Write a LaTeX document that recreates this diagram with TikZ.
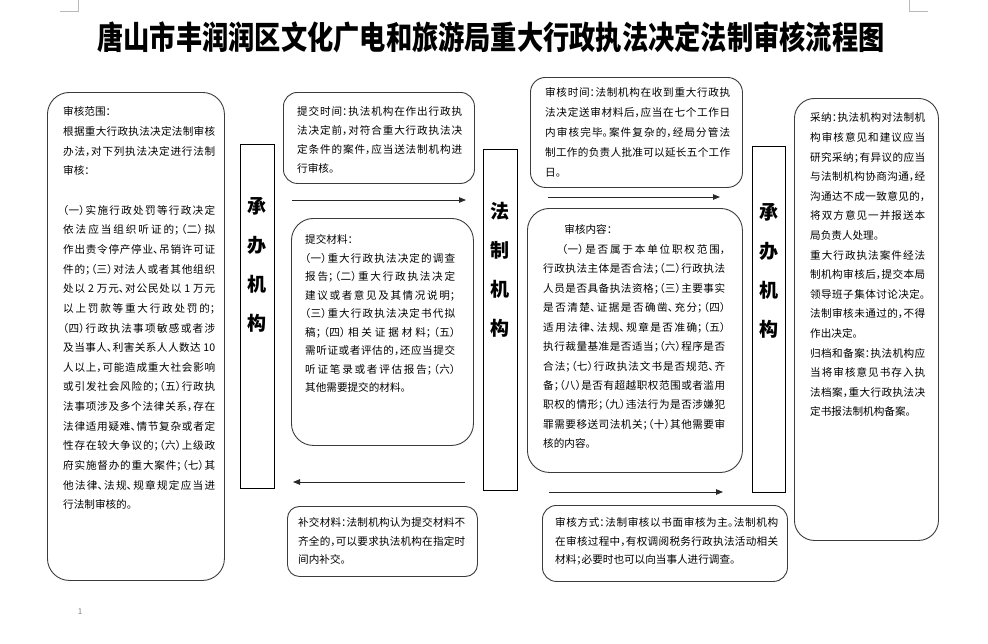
\documentclass[tikz,border=0pt]{standalone}
\usepackage{fontspec}
\usepackage{graphicx}
\setmainfont{Noto Sans CJK SC}[RawFeature=+halt]
\usetikzlibrary{arrows.meta}
\XeTeXlinebreaklocale "zh"
\XeTeXlinebreakskip=0pt plus 2pt
\tolerance=10000
\hbadness=10000
\hfuzz=6pt
\definecolor{boxgray}{RGB}{60,60,60}
\definecolor{arrgray}{RGB}{40,40,40}
\definecolor{markgray}{RGB}{185,185,185}
\newcommand\bodyfont[1]{\fontsize{10.6}{#1}\selectfont}
\begin{document}
\begin{tikzpicture}[x=1pt,y=-1pt,
  rbox/.style={draw=boxgray, line width=0.9pt, rounded corners=#1, anchor=north west, inner sep=0pt},
  vertbox/.style={draw=black, line width=0.9pt, anchor=north west, inner sep=0pt},
  txt/.style={anchor=north west, inner sep=0pt, align=justify},
  vlab/.style={anchor=north, inner sep=0pt, align=center, font=\bfseries\fontsize{19}{39}\selectfont},
  arr/.style={draw=arrgray, line width=0.8pt, -{Triangle[length=7pt,width=5.5pt]}},
  cornermark/.style={draw=markgray, line width=0.6pt}]
\useasboundingbox (0,0) rectangle (988,643);
\fill[white] (0,0) rectangle (988,643);

% corner marks and page number
\coordinate (m1a) at (60,11); \coordinate (m1b) at (78,11); \coordinate (m1c) at (78,0);
\coordinate (m2a) at (909,0); \coordinate (m2b) at (909,11); \coordinate (m2c) at (928,11);
\draw[cornermark] (m1a) -- (m1b) -- (m1c);
\draw[cornermark] (m2a) -- (m2b) -- (m2c);
\node[font=\fontsize{8}{8}\selectfont, text=gray] (pagenum) at (80,612) {1};

% title
\node[font=\bfseries\fontsize{32}{32}\selectfont, inner sep=0pt] (title) at (491,37)
  {\scalebox{0.82}[1]{唐山市丰润润区文化广电和旅游局重大行政执法决定法制审核流程图}};

% boxes
\node[rbox=22pt, minimum width=177pt, minimum height=488pt] (b1) at (47,92) {};
\node[rbox=14pt, minimum width=191pt, minimum height=91pt] (b2) at (283,92) {};
\node[rbox=22pt, minimum width=182pt, minimum height=227pt] (b3) at (291,218) {};
\node[rbox=12pt, minimum width=190pt, minimum height=70pt] (b4) at (287,506) {};
\node[rbox=15pt, minimum width=212pt, minimum height=110pt] (b5) at (530,77) {};
\node[rbox=22pt, minimum width=215pt, minimum height=264pt] (b6) at (527,208) {};
\node[rbox=14pt, minimum width=245pt, minimum height=76pt] (b7) at (542,505) {};
\node[rbox=20pt, minimum width=144pt, minimum height=442pt] (b8) at (794,98) {};
\node[vertbox, minimum width=34pt, minimum height=344pt] (v1) at (240,144) {};
\node[vertbox, minimum width=34pt, minimum height=341pt] (v2) at (483,149) {};
\node[vertbox, minimum width=33pt, minimum height=346pt] (v3) at (752,146) {};

% vertical labels
\node[vlab] (l1) at (257,197.5) {承\\办\\机\\构};
\node[vlab] (l2) at (500,202.5) {法\\制\\机\\构};
\node[vlab] (l3) at (768.5,203.5) {承\\办\\机\\构};

% texts
\node[txt, text width=152pt, font=\bodyfont{19.65}] (t1) at (63,106.7) {审核范围：\\
根据重大行政执法决定法制审核\linebreak
办法，对下列执法决定进行法制\linebreak
审核：\\[19.65pt]
（一）实施行政处罚等行政决定\linebreak
依法应当组织听证的；（二）拟\linebreak
作出责令停产停业、吊销许可证\linebreak
件的；（三）对法人或者其他组织\linebreak
处以 2 万元、对公民处以 1 万元\linebreak
以上罚款等重大行政处罚的；\linebreak
（四）行政执法事项敏感或者涉\linebreak
及当事人、利害关系人人数达 10\linebreak
人以上，可能造成重大社会影响\linebreak
或引发社会风险的；（五）行政执\linebreak
法事项涉及多个法律关系，存在\linebreak
法律适用疑难、情节复杂或者定\linebreak
性存在较大争议的；（六）上级政\linebreak
府实施督办的重大案件；（七）其\linebreak
他法律、法规、规章规定应当进\linebreak
行法制审核的。};

\node[txt, text width=165pt, font=\bodyfont{19}] (t2) at (297,106.7) {提交时间：执法机构在作出行政执\linebreak
法决定前，对符合重大行政执法决\linebreak
定条件的案件，应当送法制机构进\linebreak
行审核。};

\node[txt, text width=150pt, font=\bodyfont{18.5}] (t3) at (305,234.7) {提交材料：\\
（一）重大行政执法决定的调查\linebreak
报告；（二）重大行政执法决定\linebreak
建议或者意见及其情况说明；\linebreak
（三）重大行政执法决定书代拟\linebreak
稿；（四）相关证据材料；（五）\linebreak
需听证或者评估的，还应当提交\linebreak
听证笔录或者评估报告；（六）\linebreak
其他需要提交的材料。};

\node[txt, text width=167pt, font=\bodyfont{18.5}] (t4) at (298,517.7) {补交材料：法制机构认为提交材料不\linebreak
齐全的，可以要求执法机构在指定时\linebreak
间内补交。};

\node[txt, text width=185pt, font=\bodyfont{20}] (t5) at (545,87.7) {审核时间：法制机构在收到重大行政执\linebreak
法决定送审材料后，应当在七个工作日\linebreak
内审核完毕。案件复杂的，经局分管法\linebreak
制工作的负责人批准可以延长五个工作\linebreak
日。};

\node[txt, text width=182pt, font=\bodyfont{19.45}] (t6) at (543,224.7) {\hspace*{2em}审核内容：\\
\hspace*{1.8em}（一）是否属于本单位职权范围，\linebreak
行政执法主体是否合法；（二）行政执法\linebreak
人员是否具备执法资格；（三）主要事实\linebreak
是否清楚、证据是否确凿、充分；（四）\linebreak
适用法律、法规、规章是否准确；（五）\linebreak
执行裁量基准是否适当；（六）程序是否\linebreak
合法；（七）行政执法文书是否规范、齐\linebreak
备；（八）是否有超越职权范围或者滥用\linebreak
职权的情形；（九）违法行为是否涉嫌犯\linebreak
罪需要移送司法机关；（十）其他需要审\linebreak
核的内容。};

\node[txt, text width=223pt, font=\bodyfont{18.5}] (t7) at (555,517.7) {审核方式：法制审核以书面审核为主。法制机构\linebreak
在审核过程中，有权调阅税务行政执法活动相关\linebreak
材料；必要时也可以向当事人进行调查。};

\node[txt, text width=115pt, font=\bodyfont{19.6}] (t8) at (810,112.7) {采纳：执法机构对法制机\linebreak
构审核意见和建议应当\linebreak
研究采纳；有异议的应当\linebreak
与法制机构协商沟通，经\linebreak
沟通达不成一致意见的，\linebreak
将双方意见一并报送本\linebreak
局负责人处理。\\
重大行政执法案件经法\linebreak
制机构审核后，提交本局\linebreak
领导班子集体讨论决定。\linebreak
法制审核未通过的，不得\linebreak
作出决定。\\
归档和备案：执法机构应\linebreak
当将审核意见书存入执\linebreak
法档案，重大行政执法决\linebreak
定书报法制机构备案。};

% arrows
\coordinate (a1s) at (292,200); \coordinate (a1e) at (466,200);
\coordinate (a2s) at (465,482); \coordinate (a2e) at (293,482);
\coordinate (a3s) at (548,197); \coordinate (a3e) at (720,197);
\coordinate (a4s) at (549,492); \coordinate (a4e) at (723,492);
\draw[arr] (a1s) -- (a1e);
\draw[arr] (a2s) -- (a2e);
\draw[arr] (a3s) -- (a3e);
\draw[arr] (a4s) -- (a4e);
\end{tikzpicture}
\end{document}
